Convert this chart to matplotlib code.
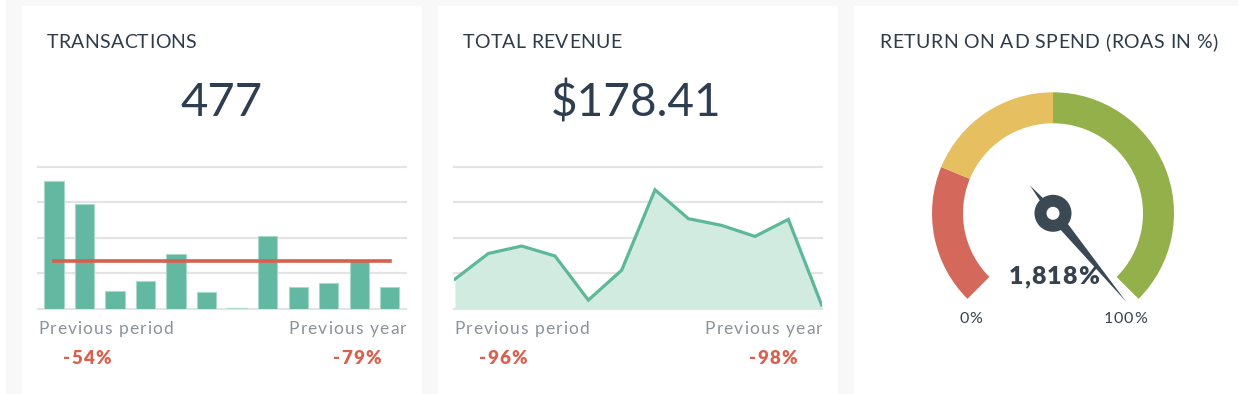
import matplotlib.pyplot as plt
import numpy as np
from matplotlib.patches import Rectangle, Wedge, Circle, Polygon

plt.rcParams['font.family'] = ['Lato', 'DejaVu Sans']

# ---- data ----
tx_title = "TRANSACTIONS"
tx_total = "477"
tx_bars = [3.61, 2.94, 0.51, 0.78, 1.54, 0.47, 0.03, 2.04, 0.61, 0.74, 1.36, 0.61]
tx_avg = 1.34
tx_changes = ["-54%", "-79%"]

rev_title = "TOTAL REVENUE"
rev_total = "$178.41"
rev_line = [0.84, 1.56, 1.77, 1.49, 0.25, 1.09, 3.35, 2.54, 2.35, 2.04, 2.52, 0.11]
rev_changes = ["-96%", "-98%"]

roas_title = "RETURN ON AD SPEND (ROAS IN %)"
roas_value = 1818
roas_bands = [0, 25, 50, 100]
roas_colors = ['#d4685a', '#e6bf60', '#93b04b']
roas_labels = ["0%", "100%"]

compare_labels = ["Previous period", "Previous year"]

W, H = 1238, 394
TITLE_C = '#2f3b48'
BIG_C = '#2c3e50'
GREY_C = '#8c9299'
RED_C = '#d9604f'
GREEN = '#62b8a0'
GRID_C = '#e4e4e4'
GAUGE_TXT = '#36434f'


def box(x0, y0, x1, y1):
    # pixel box (top-down image coords) -> figure fraction
    return [x0 / W, 1 - y1 / H, (x1 - x0) / W, (y1 - y0) / H]


def px(x, y):
    return x / W, 1 - y / H


fig = plt.figure(figsize=(W / 100, H / 100), dpi=100)
fig.patch.set_facecolor('white')
renderer = fig.canvas.get_renderer()


def text_w(s, **kw):
    t = fig.text(0, 0, s, **kw)
    w = t.get_window_extent(renderer).width
    t.remove()
    return w


def tracked(x, y, s, track=0.0, ha='left', **kw):
    # text with extra letter spacing (px), x/y in image pixels, baseline y
    ref = text_w('x', **kw)
    offs = [text_w(s[:i] + 'x', **kw) - ref + i * track if i else 0.0 for i in range(len(s))]
    total = text_w(s, **kw) + (len(s) - 1) * track
    if ha == 'right':
        x = x - total
    elif ha == 'center':
        x = x - total / 2
    for ch, o in zip(s, offs):
        if ch != ' ':
            fig.text(*px(x + o, y), ch, va='baseline', **kw)


# background + cards
bg = fig.add_axes([0, 0, 1, 1], zorder=0)
bg.set_xlim(0, W)
bg.set_ylim(0, H)
bg.axis('off')
bg.add_patch(Rectangle((6, 0), W - 6, H, color='#f8f8f8', lw=0))
for cx0, cx1 in [(22, 422), (438, 838), (854, W)]:
    bg.add_patch(Rectangle((cx0, 0), cx1 - cx0, H - 6, color='white', lw=0))


def grid_axes(x0, x1):
    ax = fig.add_axes(box(x0, 166.7, x1, 309), zorder=1)
    ax.patch.set_alpha(0)
    ax.set_ylim(0, 4)
    for v in range(5):
        ax.axhline(v, color=GRID_C, lw=1.6, zorder=0, clip_on=False)
    ax.axis('off')
    return ax


def footer(left, right, changes):
    tracked(left, 334.3, compare_labels[0], 1.1, fontsize=12.5, color=GREY_C)
    tracked(right, 334.3, compare_labels[1], 1.1, ha='right', fontsize=12.5, color=GREY_C)
    tracked(left + 24.7, 364.3, changes[0], 1.3, fontsize=13.5, color=RED_C, weight='heavy')
    tracked(right - 25, 364.3, changes[1], 1.3, ha='right', fontsize=13.5, color=RED_C, weight='heavy')


# ---- transactions ----
ax1 = grid_axes(38, 406)
ax1.bar(range(len(tx_bars)), tx_bars, width=0.63, color=GREEN,
        edgecolor='#a9dac9', lw=0.8, zorder=2)
ax1.plot([0, len(tx_bars) - 1], [tx_avg, tx_avg], color='#d6604f', lw=2.6, zorder=3)
ax1.set_xlim(-0.52, 11.53)
tracked(46.7, 48.3, tx_title, 0.3, fontsize=14, color=TITLE_C)
fig.text(*px(222, 116), tx_total, fontsize=34, color=BIG_C, ha='center', va='baseline')
footer(38, 406, tx_changes)

# ---- revenue ----
ax2 = grid_axes(454, 822)
xs = np.arange(len(rev_line))
ax2.fill_between(xs, rev_line, 0, color='#d2ebe1', lw=0, zorder=1)
ax2.plot(xs, rev_line, color='#5db89a', lw=2.3, zorder=3, solid_joinstyle='miter')
ax2.set_xlim(-0.03, 11.01)
tracked(462.7, 48.3, rev_title, 0.3, fontsize=14, color=TITLE_C)
fig.text(*px(636.5, 116), rev_total, fontsize=33, color=BIG_C, ha='center', va='baseline')
footer(454, 822, rev_changes)

# ---- ROAS gauge ----
gx, gy = 1053, H - 213.3
r_out, ring = 121, 31


def frac_angle(f):
    return 225 - 270 * f


for (b0, b1), c in zip(zip(roas_bands[:-1], roas_bands[1:]), roas_colors):
    bg.add_patch(Wedge((gx, gy), r_out, frac_angle(b1 / 100), frac_angle(b0 / 100),
                       width=ring, color=c, lw=0))

a = np.radians(frac_angle(min(roas_value / 100, 1.02)))
d = np.array([np.cos(a), np.sin(a)])
n = np.array([-np.sin(a), np.cos(a)])
c0 = np.array([gx, gy])
NEEDLE_C = '#3b4954'
bg.add_patch(Polygon([c0 + n * 5.5, c0 + d * 115, c0 - n * 5.5], color=NEEDLE_C, lw=0))
bg.add_patch(Polygon([c0 - n * 4, c0 - d * 36, c0 + n * 4], color=NEEDLE_C, lw=0))
bg.add_patch(Circle((gx, gy), 18.5, color=NEEDLE_C, lw=0))
bg.add_patch(Circle((gx, gy), 6.5, color='white', lw=0))

tracked(879.3, 48.3, roas_title, 0.45, fontsize=14, color=TITLE_C)
tracked(1053.7, 284, f"{roas_value:,}%", 1.0, ha='center', fontsize=18,
        color=GAUGE_TXT, weight='heavy')
tracked(971, 323.3, roas_labels[0], 0.8, ha='center', fontsize=11.5, color=GAUGE_TXT)
tracked(1125, 323.3, roas_labels[1], 0.8, ha='center', fontsize=11.5, color=GAUGE_TXT)

fig.savefig('out.png', dpi=100, facecolor=fig.get_facecolor())
